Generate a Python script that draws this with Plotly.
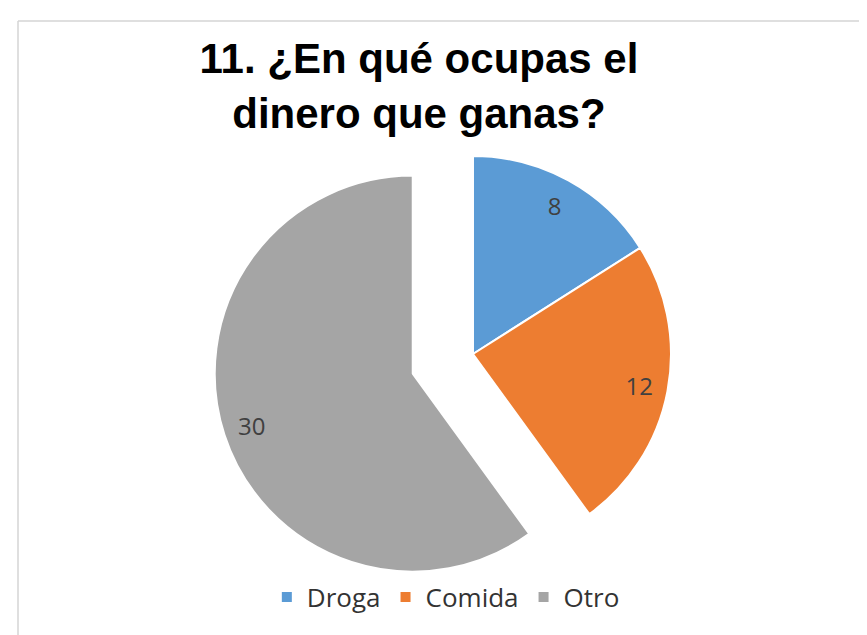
import plotly.graph_objects as go

categories = ["Droga", "Comida", "Otro"]
values = [8, 12, 30]
colors = ["#5B9BD5", "#ED7D31", "#A5A5A5"]
pulls = [0, 0, 0.32]

W, H = 867, 635

dx = -8 / W
dy = 7 / H
dom = dict(x=[0.2441 + dx, 0.8470 + dx], y=[0.0325 + dy, 0.8557 + dy])

fig = go.Figure()
# main slices
fig.add_trace(go.Pie(
    labels=categories,
    values=values,
    sort=False,
    direction="clockwise",
    rotation=0,
    pull=pulls,
    marker=dict(colors=colors, line=dict(color="white", width=2)),
    textinfo="none",
    domain=dom,
    hoverinfo="label+value",
))
# value labels, placed toward the outer end of each slice
fig.add_trace(go.Pie(
    labels=categories,
    values=values,
    sort=False,
    direction="clockwise",
    rotation=0,
    pull=pulls,
    hole=0.71,
    marker=dict(colors=["rgba(0,0,0,0)"] * len(values), line=dict(width=0)),
    textinfo="value",
    textposition="inside",
    insidetextorientation="horizontal",
    textfont=dict(family="Open Sans", size=24, color="#404040"),
    domain=dom,
    showlegend=False,
    hoverinfo="skip",
))

fig.update_layout(
    width=W, height=H,
    margin=dict(l=0, r=0, t=0, b=0),
    paper_bgcolor="white",
    plot_bgcolor="white",
    title=dict(
        text="<b>11. ¿En qué ocupas el<br>dinero que ganas?</b>",
        font=dict(family="Liberation Sans", size=42, color="#000000"),
        x=0.474, xanchor="center",
        y=1 - 65 / H, yanchor="top", yref="container",
    ),
    legend=dict(
        orientation="h",
        x=0.505, xanchor="center",
        y=1 - 589 / H, yanchor="middle",
        font=dict(family="Open Sans", size=26, color="#333333"),
        bgcolor="rgba(0,0,0,0)",
    ),
    shapes=[
        dict(type="line", xref="paper", yref="paper",
             x0=10 / W, x1=1, y0=1 - 13 / H, y1=1 - 13 / H,
             line=dict(color="#d4d4d4", width=1.5)),
        dict(type="line", xref="paper", yref="paper",
             x0=10 / W, x1=10 / W, y0=0, y1=1 - 13 / H,
             line=dict(color="#d4d4d4", width=1.5)),
    ],
)

fig.write_html("out.html")
